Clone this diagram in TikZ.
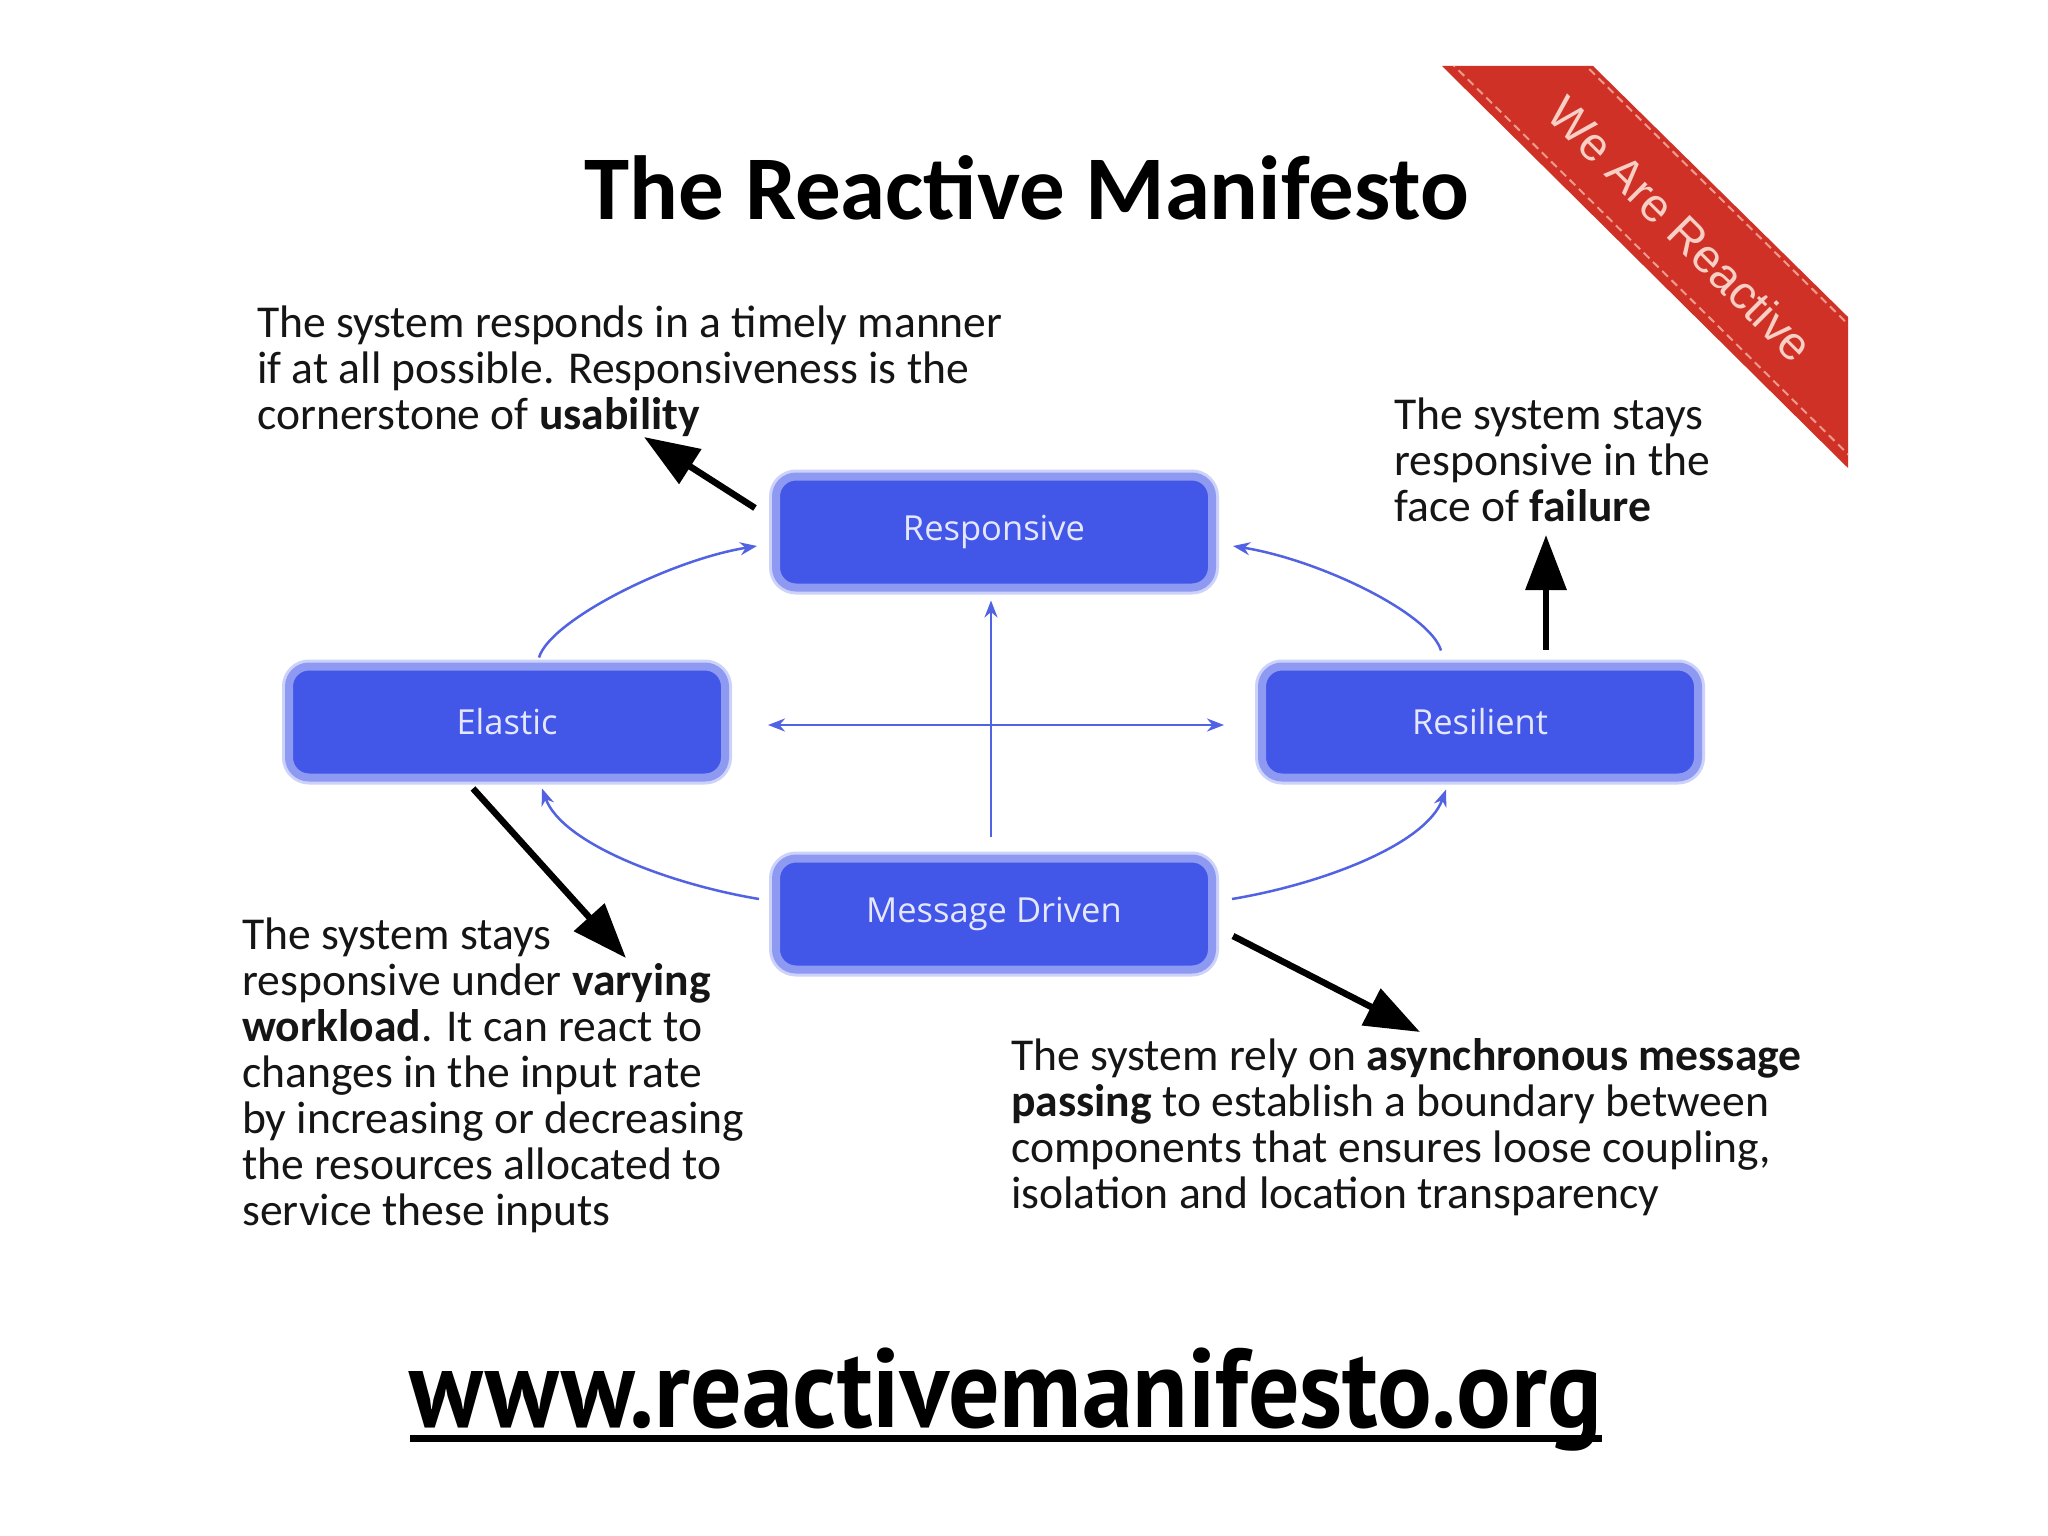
\documentclass[tikz,border=0pt]{standalone}
\usepackage{fontspec}
\setmainfont{Carlito}
\newfontfamily\boxfont{Open Sans}
\newfontfamily\ribfont{Liberation Sans}
\newfontfamily\urlfont{PT Sans}
\usetikzlibrary{arrows.meta,calc}
\definecolor{boxfill}{HTML}{4256E8}
\definecolor{boxrim}{HTML}{8E9AF2}
\definecolor{boxhalo}{HTML}{CDD2FA}
\definecolor{boxtext}{HTML}{E4E7FF}
\definecolor{link}{HTML}{5162E2}
\definecolor{ribbon}{HTML}{CF3127}
\definecolor{stitch}{HTML}{EE9A8C}
\definecolor{ribtext}{HTML}{F8CFC4}
\definecolor{ink}{HTML}{151515}
\begin{document}
\begin{tikzpicture}[x=1pt,y=-1pt,
  pillar/.style={draw=boxrim, line width=8pt, fill=boxfill, rounded corners=20pt,
    minimum width=436pt, minimum height=111pt, inner sep=0pt, text=boxtext,
    preaction={draw=boxhalo, line width=14pt},
    font=\boxfont\fontsize{34.5}{40}\selectfont},
  flow/.style={draw=link, line width=2.5pt, -{Stealth[length=17pt,width=13pt]}},
  callout/.style={draw=black, line width=6.5pt, -{Triangle[length=55pt,width=40pt]}},
  note/.style={align=left, anchor=base west, inner sep=0pt, text=ink,
    font=\fontsize{45.6}{46}\selectfont},
]
\useasboundingbox[fill=white] (0,0) rectangle (2048,1536);

% ribbon
\path[fill=ribbon] (1442,66) -- (1593,66) -- (1848,317) -- (1848,468) -- cycle;
\begin{scope}
  \clip (1442,66) -- (1593,66) -- (1848,317) -- (1848,468) -- cycle;
  \draw[stitch, line width=2pt, dash pattern=on 8pt off 5pt] (1580,60) -- (1860,336);
  \draw[stitch, line width=2pt, dash pattern=on 8pt off 5pt] (1440,52) -- (1860,466);
\end{scope}
\node[rotate=-45, text=ribtext, font=\ribfont\fontsize{47}{50}\selectfont] (ribtxt) at (1681,229) {We Are Reactive};

% title
\node[anchor=base, inner sep=0pt, text=black, font=\bfseries\fontsize{91}{96}\selectfont] (title) at (1027,219) {The Reactive Manifesto};

% boxes
\node[pillar] (resp) at (994,532) {Responsive};
\node[pillar] (el) at (507,722) {Elastic};
\node[pillar] (res) at (1480,722) {Resilient};
\node[pillar] (md) at (994,914) {Message Driven};

% blue flows
\draw[flow] ($(el.north)+(32,-5)$) .. controls +(11,-37) and +(-87,14) .. ($(resp.west)+(-15,14)$);
\draw[flow] ($(res.north)+(-39,-12)$) .. controls +(-11,-37) and +(87,14) .. ($(resp.east)+(17,14)$);
\draw[flow] ($(md.west)+(-13,-15)$) .. controls +(-90,-15) and +(20,55) .. ($(el.south)+(35,7)$);
\draw[flow] ($(md.east)+(16,-15)$) .. controls +(90,-15) and +(-20,55) .. ($(res.south)+(-34,8)$);
\draw[flow] ($(md.north)+(-3,-18)$) -- ($(resp.south)+(-3,9)$);
\draw[flow, {Stealth[length=17pt,width=13pt]}-{Stealth[length=17pt,width=13pt]}] ($(el.east)+(39,3)$) -- ($(res.west)+(-34,3)$);

% notes (anchor = baseline of last line)
\node[note] (n1) at (257,429) {The system responds in a timely manner\\if at all possible. Responsiveness is the\\cornerstone of \textbf{usability}};
\node[note] (n2) at (1394,521) {The system stays\\responsive in the\\face of \textbf{failure}};
\node[note] (n3) at (242,1225) {The system stays\\responsive under \textbf{varying}\\\textbf{workload}. It can react to\\changes in the input rate\\by increasing or decreasing\\the resources allocated to\\service these inputs};
\node[note] (n4) at (1011,1208) {The system rely on \textbf{asynchronous message}\\\textbf{passing} to establish a boundary between\\components that ensures loose coupling,\\isolation and location transparency};

% callout arrows
\coordinate (t1) at (644,437);
\coordinate (t2) at (1546,535);
\coordinate (t3) at (626,958);
\coordinate (t4) at (1420,1032);
\draw[callout] ($(resp.west)+(-17,-24)$) -- (t1);
\draw[callout] ($(res.north)+(66,-13)$) -- (t2);
\draw[callout] ($(el.south)+(-34,7)$) -- (t3);
\draw[callout] ($(md.east)+(17,22)$) -- (t4);

% url
\node[anchor=base, inner sep=0pt, text=black] (url) at (1006,1427)
  {\resizebox{1192pt}{\height}{\urlfont\bfseries\fontsize{112}{120}\selectfont www.reactivemanifesto.org}};
\draw[line width=7pt] ($(url.base west)+(0,11)$) -- ($(url.base east)+(0,11)$);
\end{tikzpicture}
\end{document}
